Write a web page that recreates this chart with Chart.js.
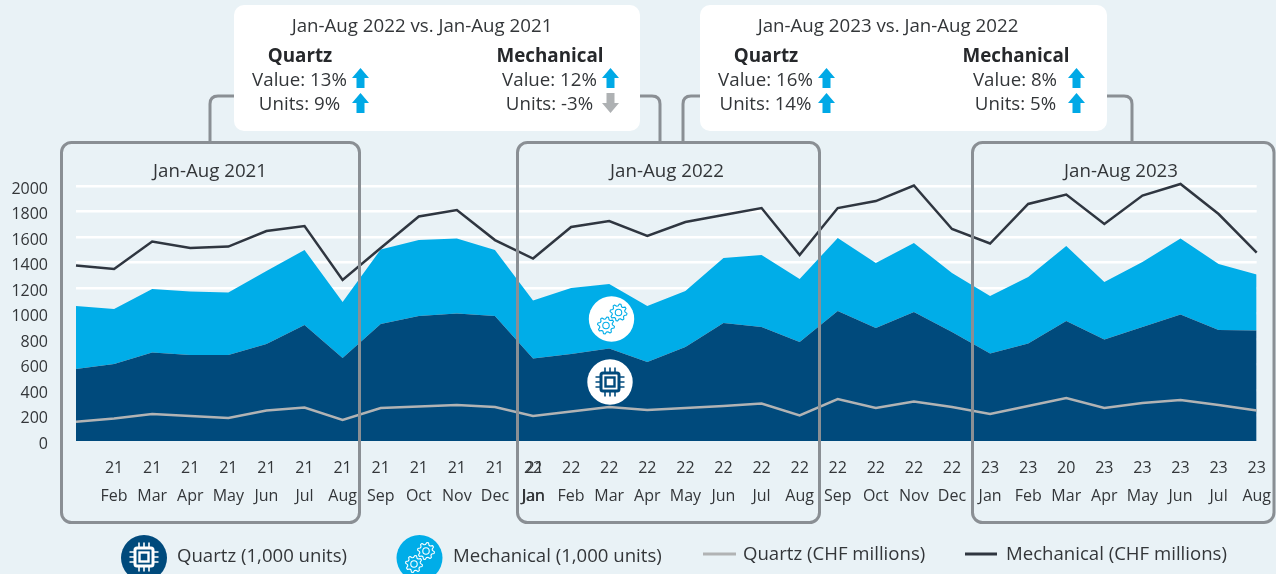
<!DOCTYPE html>
<html>
<head>
<meta charset="utf-8">
<script src="https://cdn.jsdelivr.net/npm/chart.js@4/dist/chart.umd.min.js"></script>
<style>
html,body{margin:0;padding:0;width:1276px;height:574px;overflow:hidden;background:#e9f2f6;font-family:"Open Sans",sans-serif;color:#333639}
#wrap{position:relative;width:1276px;height:574px;overflow:hidden}
canvas{position:absolute;left:0;top:0}
svg.ov{position:absolute;left:0;top:0;pointer-events:none}
.t{position:absolute;white-space:nowrap;transform:translate(-50%,-50%);font-size:18.7px;line-height:1}
.l{position:absolute;white-space:nowrap;transform:translateY(-50%);font-size:18.6px;line-height:1}
.b{font-weight:700;font-size:18.8px;color:#26282b}
</style>
</head>
<body>
<div id="wrap">
<canvas id="c" width="1276" height="574"></canvas>
<svg class="ov" id="ov" width="1276" height="574" viewBox="0 0 1276 574"></svg>
<div id="texts"></div>
</div>
<script>
const yearLabels = ['', '21','21','21','21','21','21','21','21','21','21','21',
  '22','22','22','22','22','22','22','22','22','22','22','22',
  '23','23','20','23','23','23','23','23'];
const monthLabels = ['', 'Feb','Mar','Apr','May','Jun','Jul','Aug','Sep','Oct','Nov','Dec',
  'Jan','Feb','Mar','Apr','May','Jun','Jul','Aug','Sep','Oct','Nov','Dec',
  'Jan','Feb','Mar','Apr','May','Jun','Jul','Aug'];
const quartzUnits = [565,604,694,675,675,761,910,651,918,980,1000,980,
  647,682,725,620,737,925,894,776,1020,886,1012,855,
  686,765,941,796,894,992,871,867];
const mechanicalUnits = [494,431,498,498,490,572,588,439,584,596,588,518,
  455,518,506,439,439,510,565,495,572,510,541,463,
  451,521,588,451,510,596,517,439];
const quartzValue = [151,176,212,196,180,239,263,165,259,270,282,267,
  196,231,267,243,259,274,294,200,329,259,310,267,
  212,274,337,259,298,322,282,239];
const mechanicalValue = [1376,1349,1565,1514,1525,1647,1686,1263,1514,1761,1812,1576,
  1431,1678,1725,1608,1717,1772,1827,1459,1827,1882,2004,1663,
  1549,1859,1933,1702,1925,2016,1780,1478];
const seriesNames = ['Quartz (1,000 units)','Mechanical (1,000 units)','Quartz (CHF millions)','Mechanical (CHF millions)'];
const COL = {dark:'#004a7c',light:'#00ade8',grayLine:'#b1b3b4',darkLine:'#2f3640',frame:'#8a8f94',text:'#333639'};
const FONT = '"Open Sans", sans-serif';

const overlapLabel = {
  id:'overlapLabel',
  afterDraw(chart){
    const x = chart.scales.x, c = chart.ctx, it = x.getLabelItems()[12];
    const px = it.options.translation[0], py = it.options.translation[1], lh = 16*1.75;
    c.save();
    c.font = '16px '+FONT; c.fillStyle = COL.text;
    c.textAlign = it.options.textAlign; c.textBaseline = it.options.textBaseline;
    c.fillText('21', px+1.5, py+it.textOffset);
    c.fillText('Jan', px+0.6, py+it.textOffset+lh);
    c.restore();
  }
};

new Chart(document.getElementById('c'),{
  type:'line',
  plugins:[overlapLabel],
  data:{
    labels: yearLabels.map((y,i)=>[y,monthLabels[i]]),
    datasets:[
      {label:seriesNames[0],data:quartzUnits,stack:'units',order:3,fill:'origin',backgroundColor:COL.dark,borderWidth:0,pointRadius:0,tension:0},
      {label:seriesNames[1],data:mechanicalUnits,stack:'units',order:4,fill:'-1',backgroundColor:COL.light,borderWidth:0,pointRadius:0,tension:0},
      {label:seriesNames[2],data:quartzValue,stack:'qv',order:2,fill:false,borderColor:COL.grayLine,borderWidth:2.5,pointRadius:0,tension:0,clip:false},
      {label:seriesNames[3],data:mechanicalValue,stack:'mv',order:1,fill:false,borderColor:COL.darkLine,borderWidth:2.5,pointRadius:0,tension:0,clip:false}
    ]
  },
  options:{
    responsive:false,animation:false,
    layout:{padding:{left:0,right:19,top:186,bottom:0}},
    plugins:{legend:{display:false},tooltip:{enabled:false},title:{display:false}},
    scales:{
      x:{
        type:'category',offset:false,
        grid:{display:false},border:{display:false},
        afterFit(s){s.height=133;},
        ticks:{autoSkip:false,maxRotation:0,minRotation:0,padding:5,color:COL.text,font:{family:FONT,size:16,lineHeight:1.75}}
      },
      y:{
        stacked:true,min:0,max:2000,
        afterFit(s){s.width=76;},
        afterBuildTicks(s){s.ticks=[];for(let v=0;v<=2000;v+=200)s.ticks.push({value:v});},
        border:{display:false},
        grid:{drawTicks:false,lineWidth:2.5,color:ctx=>ctx.tick&&ctx.tick.value===0?'rgba(0,0,0,0)':'#ffffff'},
        ticks:{padding:28,color:COL.text,font:{family:FONT,size:16,lineHeight:0.4},callback:v=>['',String(v)]}
      }
    }
  }
});

/* ---------- overlay annotations ---------- */
const NS='http://www.w3.org/2000/svg', ov=document.getElementById('ov');
function el(n,a,p){const e=document.createElementNS(NS,n);for(const k in a)e.setAttribute(k,a[k]);(p||ov).appendChild(e);return e;}

// connectors
[ 'M210 142V104Q210 96 218 96H240','M634 96H652Q660 96 660 104V142',
  'M683 142V104Q683 96 691 96H706','M1100 96H1124Q1132 96 1132 104V142'
].forEach(d=>el('path',{d,fill:'none',stroke:COL.frame,'stroke-width':3}));
// callouts
[[234,5,406,126],[700,5,407,126]].forEach(b=>el('rect',{x:b[0],y:b[1],width:b[2],height:b[3],rx:10,fill:'#fff'}));
// frames
[[61.5,359.5],[517.5,819.5],[972.5,1274]].forEach(f=>el('rect',{x:f[0],y:142.5,width:f[1]-f[0],height:380,rx:10,fill:'none',stroke:COL.frame,'stroke-width':3}));
// arrows
function up(x,y,c){el('path',{d:`M${x+8.5} ${y}L${x+17} ${y+10}H${x+12.5}V${y+20}H${x+4.5}V${y+10}H${x}Z`,fill:c});}
function down(x,y,c){el('path',{d:`M${x+4.5} ${y}H${x+12.5}V${y+10}H${x+17}L${x+8.5} ${y+20}L${x} ${y+10}H${x+4.5}Z`,fill:c});}
up(352,68,'#00a9e6');up(352,93,'#00a9e6');up(602,68,'#00a9e6');down(602,93,'#aeb1b3');
up(818,68,'#00a9e6');up(818,93,'#00a9e6');up(1068,68,'#00a9e6');up(1068,93,'#00a9e6');

// icons
function chip(cx,cy,c,k){
  const g=el('g',{transform:`translate(${cx} ${cy}) scale(${k})`,fill:'none',stroke:c});
  el('rect',{x:-9,y:-9,width:18,height:18,rx:2,'stroke-width':3},g);
  el('rect',{x:-4.5,y:-4.5,width:9,height:9,'stroke-width':2.4},g);
  [-5,0,5].forEach(o=>{
    el('path',{d:`M${o} -10V-14.5M${o} 10V14.5M-10 ${o}H-14.5M10 ${o}H14.5`,'stroke-width':1.6},g);
  });
}
function gear(cx,cy,r,c){
  const n=8;let d='';
  for(let i=0;i<n*4;i++){
    const a=i*Math.PI*2/(n*4)-Math.PI/n/4+0.2;
    const R=(i%4<2)?r:r*0.76;
    d+=(i?'L':'M')+(cx+R*Math.cos(a)).toFixed(2)+' '+(cy+R*Math.sin(a)).toFixed(2);
  }
  el('path',{d:d+'Z',fill:'none',stroke:c,'stroke-width':1.1,'stroke-linejoin':'round'});
  el('circle',{cx,cy,r:r*0.38,fill:'none',stroke:c,'stroke-width':1.1});
}
el('circle',{cx:611.5,cy:319,r:22.7,fill:'#fff'});
gear(618.5,312.5,8.5,COL.light);gear(606,325.5,8.5,COL.light);
el('circle',{cx:610,cy:382,r:22.7,fill:'#fff'});
chip(610,382,COL.dark,1);
el('circle',{cx:144,cy:558,r:23,fill:COL.dark});
chip(144,557,'#fff',1);
el('circle',{cx:419.5,cy:558,r:23,fill:COL.light});
gear(426,551,8.5,'#fff');gear(414,564,8.5,'#fff');
// legend line swatches
el('line',{x1:703,x2:736,y1:554,y2:554,stroke:COL.grayLine,'stroke-width':3});
el('line',{x1:965,x2:997,y1:554,y2:554,stroke:COL.darkLine,'stroke-width':3});

/* ---------- annotation text ---------- */
const T=document.getElementById('texts');
function txt(s,x,y,cls){const d=document.createElement('div');d.className=cls;d.textContent=s;d.style.left=x+'px';d.style.top=y+'px';T.appendChild(d);}
txt('Jan-Aug 2021',210,170,'t');txt('Jan-Aug 2022',667,170,'t');txt('Jan-Aug 2023',1121,170,'t');
txt('Jan-Aug 2022 vs. Jan-Aug 2021',422,25,'t');
txt('Quartz',300,55,'t b');txt('Mechanical',550,55,'t b');
txt('Value: 13%',299.5,79,'t');txt('Units: 9%',299.5,103,'t');
txt('Value: 12%',549.5,79,'t');txt('Units: -3%',549.5,103,'t');
txt('Jan-Aug 2023 vs. Jan-Aug 2022',888,25,'t');
txt('Quartz',766,55,'t b');txt('Mechanical',1016,55,'t b');
txt('Value: 16%',765.5,79,'t');txt('Units: 14%',765.5,103,'t');
txt('Value: 8%',1015,79,'t');txt('Units: 5%',1015.5,103,'t');
txt(seriesNames[0],177,555,'l');txt(seriesNames[1],453,555,'l');
txt(seriesNames[2],743,553,'l');txt(seriesNames[3],1006,553,'l');
</script>
</body>
</html>
